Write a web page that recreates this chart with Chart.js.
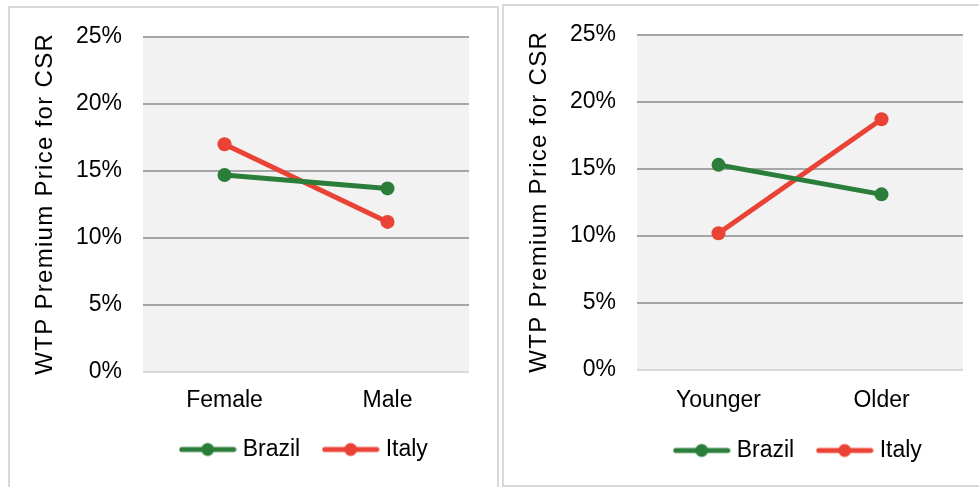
<!DOCTYPE html>
<html>
<head>
<meta charset="utf-8">
<script src="https://cdn.jsdelivr.net/npm/chart.js@4/dist/chart.umd.min.js"></script>
<style>
  html, body { margin: 0; padding: 0; background: #ffffff; }
  body { width: 979px; height: 487px; position: relative; overflow: hidden; }
  .frame { position: absolute; box-sizing: border-box; border: 2px solid #d9d9d9; background: #ffffff; }
  #frameA { left: 8px; top: 6px; width: 491px; height: 500px; }
  #frameB { left: 502px; top: 4px; width: 500px; height: 483px; }
  canvas { position: absolute; top: 0; }
  #gender { left: 0; }
  #age { left: 500px; }
</style>
</head>
<body>
<div class="frame" id="frameA"></div>
<div class="frame" id="frameB"></div>
<canvas id="gender" width="500" height="487"></canvas>
<canvas id="age" width="479" height="487"></canvas>
<script>
// WTP premium (%) for CSR, by country
const genderLabels = ['Female', 'Male'];
const genderBrazil = [14.7, 13.7];
const genderItaly  = [17.0, 11.2];

const ageLabels = ['Younger', 'Older'];
const ageBrazil = [15.3, 13.1];
const ageItaly  = [10.2, 18.7];

const seriesNames = ['Brazil', 'Italy'];
const yTicks = [0, 5, 10, 15, 20, 25];
const yTitle = 'WTP Premium Price for CSR';

const FONT = "'Liberation Sans', Arial, Helvetica, sans-serif";
const GREEN = '#2b7d3a';
const RED = '#ea4335';

Chart.defaults.font.family = FONT;
Chart.defaults.color = '#000000';

// legend symbol: short line with a dot in the middle
function legendSymbol(color) {
  const c = document.createElement('canvas');
  c.width = 58; c.height = 16;
  const g = c.getContext('2d');
  g.strokeStyle = color;
  g.lineWidth = 5;
  g.lineCap = 'round';
  g.beginPath(); g.moveTo(3, 8); g.lineTo(55, 8); g.stroke();
  g.fillStyle = color;
  g.beginPath(); g.arc(29, 8, 6.5, 0, Math.PI * 2); g.fill();
  return c;
}

// light grey fill behind the plot area
const plotBackground = {
  id: 'plotBackground',
  beforeDraw(chart) {
    const { ctx, chartArea: a } = chart;
    ctx.save();
    ctx.fillStyle = '#f2f2f2';
    ctx.fillRect(a.left, a.top, a.right - a.left, a.bottom - a.top);
    ctx.restore();
  }
};

// rotated y-axis caption, letter-spaced
const axisCaption = {
  id: 'axisCaption',
  afterDraw(chart, args, opts) {
    const { ctx, chartArea: a } = chart;
    ctx.save();
    ctx.font = opts.size + 'px ' + FONT;
    ctx.fillStyle = '#000000';
    if ('letterSpacing' in ctx) ctx.letterSpacing = opts.spacing + 'px';
    ctx.textAlign = 'center';
    ctx.textBaseline = 'middle';
    ctx.translate(opts.x, (a.top + a.bottom) / 2);
    ctx.rotate(-Math.PI / 2);
    ctx.fillText(opts.text, opts.spacing / 2, 0);
    ctx.restore();
  }
};

function makeChart(id, labels, brazil, italy, geo) {
  const ctx = document.getElementById(id);
  const series = [brazil, italy];
  const colors = [GREEN, RED];
  return new Chart(ctx, {
    type: 'line',
    data: {
      labels: labels,
      datasets: seriesNames.map((name, i) => ({
        label: name,
        data: series[i],
        borderColor: colors[i],
        backgroundColor: colors[i],
        borderWidth: 5,
        pointStyle: 'circle',
        pointRadius: 7,
        pointHoverRadius: 7,
        pointBorderWidth: 0,
        pointBackgroundColor: colors[i],
        tension: 0,
        fill: false
      }))
    },
    options: {
      responsive: false,
      animation: false,
      devicePixelRatio: 1,
      events: [],
      layout: {
        padding: { left: 0, right: geo.padRight, top: geo.top, bottom: geo.padBottom }
      },
      scales: {
        x: {
          offset: true,
          grid: { display: false, drawTicks: false },
          border: { display: false },
          ticks: { padding: geo.xPad, font: { size: 23 }, color: '#000000' },
          afterFit(scale) { scale.height = geo.xHeight; }
        },
        y: {
          min: 0,
          max: 25,
          afterBuildTicks(scale) { scale.ticks = yTicks.map(v => ({ value: v })); },
          grid: {
            drawTicks: false,
            lineWidth: 2,
            color: c => (c.tick && c.tick.value === 0) ? '#d9d9d9' : '#a6a6a6'
          },
          border: { display: false },
          ticks: {
            padding: 21,
            font: { size: 23 },
            color: '#000000',
            callback: v => v + '%'
          },
          afterFit(scale) { scale.width = geo.left; }
        }
      },
      plugins: {
        legend: {
          display: true,
          position: 'bottom',
          fullSize: false,
          labels: {
            usePointStyle: true,
            pointStyleWidth: 47,
            padding: 27,
            font: { size: 23 },
            color: '#000000',
            generateLabels(chart) {
              return chart.data.datasets.map((ds, i) => ({
                text: ds.label,
                pointStyle: legendSymbol(colors[i]),
                fillStyle: colors[i],
                strokeStyle: colors[i],
                lineWidth: 0,
                hidden: false,
                datasetIndex: i,
                fontColor: '#000000'
              }));
            }
          }
        },
        tooltip: { enabled: false },
        axisCaption: { text: yTitle, x: geo.titleX, size: 24, spacing: 1.3 }
      }
    },
    plugins: [plotBackground, axisCaption]
  });
}

makeChart('gender', genderLabels, genderBrazil, genderItaly, {
  left: 143, padRight: 31, top: 37, xHeight: 39, padBottom: 16, xPad: 15, titleX: 45.5
});
makeChart('age', ageLabels, ageBrazil, ageItaly, {
  left: 137, padRight: 16, top: 34, xHeight: 42, padBottom: 15, xPad: 17, titleX: 39.5
});
</script>
</body>
</html>
